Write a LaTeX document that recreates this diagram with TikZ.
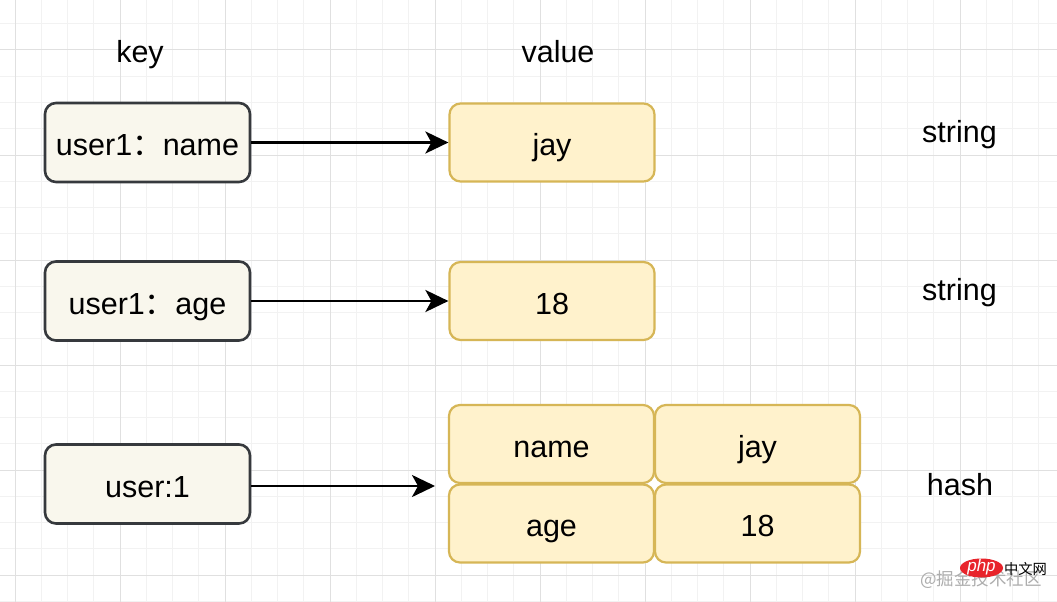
\documentclass[tikz,border=0pt]{standalone}
\usepackage{fontspec}
\setmainfont{Liberation Sans}
\newfontfamily\cjk{Noto Sans CJK SC}
\usetikzlibrary{arrows.meta}
\definecolor{keyfill}{HTML}{F9F7ED}
\definecolor{keydraw}{HTML}{36393D}
\definecolor{valfill}{HTML}{FFF2CC}
\definecolor{valdraw}{HTML}{D6B656}
\definecolor{gridminor}{HTML}{F2F2F2}
\definecolor{gridmajor}{HTML}{E0E0E0}
\definecolor{phpred}{HTML}{E8242B}
\tikzset{
  boxtext/.style={font=\fontsize{30.5}{36}\selectfont, text height=26pt, text depth=0pt},
  keybox/.style={boxtext, draw=keydraw, fill=keyfill, line width=2.6pt, rounded corners=11pt, minimum width=205pt, minimum height=79pt, inner sep=0pt},
  valbox/.style={boxtext, draw=valdraw, fill=valfill, line width=2.2pt, rounded corners=11pt, minimum width=205pt, minimum height=78pt, inner sep=0pt},
  lbl/.style={font=\fontsize{30.5}{36}\selectfont, inner sep=0pt, anchor=base},
  conn/.style={line width=2.6pt, -{Stealth[length=23pt, width=22pt, inset=6pt]}},
}
\begin{document}
\begin{tikzpicture}[x=1pt,y=-1pt]
\useasboundingbox (0,0) rectangle (1057,602);
\fill[white] (0,0) rectangle (1057,602);
% grid
\foreach \i in {0,...,41} {
  \draw[gridminor, line width=1pt] ({15+26.25*(\i-1)},0) -- ({15+26.25*(\i-1)},602);
}
\foreach \i in {0,...,24} {
  \draw[gridminor, line width=1pt] (0,{-2.5+26.25*\i}) -- (1057,{-2.5+26.25*\i});
}
\foreach \i in {0,...,10} {
  \draw[gridmajor, line width=1pt] ({15+105*\i},0) -- ({15+105*\i},602);
}
\foreach \i in {0,...,6} {
  \draw[gridmajor, line width=1pt] (0,{-55+105*\i}) -- (1057,{-55+105*\i});
}
% headers
\node[lbl] (hkey) at (140,63) {key};
\node[lbl] (hval) at (558,63) {value};
% key boxes
\node[keybox] (k1) at (147.5,142.5) {user1{\cjk ：}name};
\node[keybox] (k2) at (147.5,301) {user1{\cjk ：}age};
\node[keybox] (k3) at (147.5,484) {user:1};
% value boxes
\node[valbox] (v1) at (552,142.5) {jay};
\node[valbox] (v2) at (552,301) {18};
\node[valbox] (hn) at (551.5,444) {name};
\node[valbox] (hj) at (757.5,444) {jay};
\node[valbox] (ha) at (551.5,523.5) {age};
\node[valbox] (h18) at (757.5,523.5) {18};
% types
\node[lbl] (t1) at (959.5,142) {string};
\node[lbl] (t2) at (959.5,300.5) {string};
\node[lbl] (t3) at (960,495.5) {hash};
% connectors
\coordinate (a3) at (435,486);
\draw[conn] (k1.east) -- (v1.west);
\draw[conn] (k2.east) -- (v2.west);
\draw[conn] (k3.east |- a3) -- (a3);
% watermark
\node[inner sep=0pt, text=black!32, font=\cjk\fontsize{17.5}{17.5}\selectfont] (wjj) at (981,580) {@掘金技术社区};
\fill[phpred] (981.5,568) ellipse (21.5pt and 9.5pt);
\node[inner sep=0pt, text=white, font=\fontsize{17}{17}\selectfont\itshape] (wphp) at (981.5,567) {php};
\node[inner sep=0pt, font=\cjk\fontsize{14.3}{14.3}\selectfont] (wcn) at (1025.5,569) {中文网};
\end{tikzpicture}
\end{document}
